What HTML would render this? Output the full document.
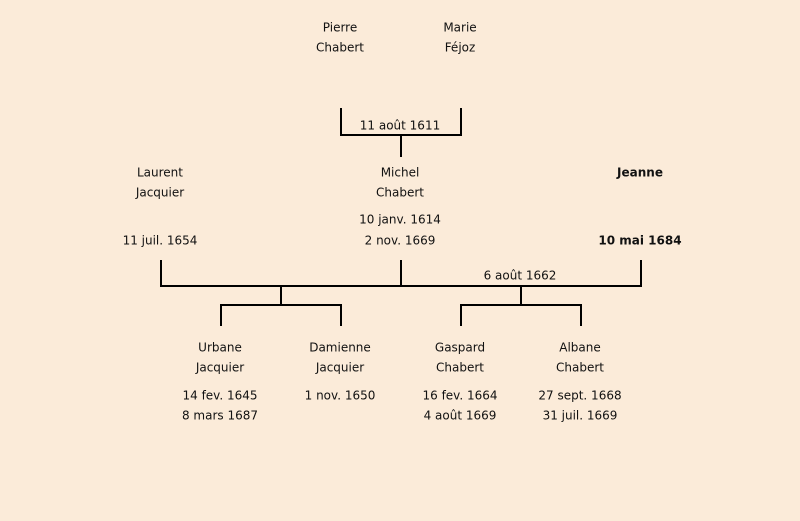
<!DOCTYPE html>
<html><head><meta charset="utf-8"><style>
html,body{margin:0;padding:0;background:#FBEBD9;}
svg{display:block}
text{font-family:"DejaVu Sans","Liberation Sans",sans-serif;font-size:12px;fill:#111;text-anchor:middle;dominant-baseline:middle}
.b{font-weight:bold}
</style></head><body>
<svg width="800" height="521" viewBox="0 0 800 521">
<rect width="800" height="521" fill="#FBEBD9"/>
<g stroke="#000" stroke-width="2" fill="none">
<path d="M341 108V135H461V108M401 135V157"/>
<path d="M161 260V286H641V260M401 260V286"/>
<path d="M281 286V305M221 326V305H341V326"/>
<path d="M521 286V305M461 326V305H581V326"/>
</g>
<g transform="translate(0,1)">
<text x="340" y="27">Pierre</text><text x="340" y="47">Chabert</text>
<text x="460" y="27">Marie</text><text x="460" y="47">Féjoz</text>
<text x="400" y="125">11 août 1611</text>
<text x="160" y="172">Laurent</text><text x="160" y="192">Jacquier</text>
<text x="160" y="240">11 juil. 1654</text>
<text x="400" y="172">Michel</text><text x="400" y="192">Chabert</text>
<text x="400" y="219">10 janv. 1614</text><text x="400" y="240">2 nov. 1669</text>
<text x="640" y="172" class="b">Jeanne</text>
<text x="640" y="240" class="b">10 mai 1684</text>
<text x="520" y="275">6 août 1662</text>
<text x="220" y="347">Urbane</text><text x="220" y="367">Jacquier</text>
<text x="220" y="395">14 fev. 1645</text><text x="220" y="415">8 mars 1687</text>
<text x="340" y="347">Damienne</text><text x="340" y="367">Jacquier</text>
<text x="340" y="395">1 nov. 1650</text>
<text x="460" y="347">Gaspard</text><text x="460" y="367">Chabert</text>
<text x="460" y="395">16 fev. 1664</text><text x="460" y="415">4 août 1669</text>
<text x="580" y="347">Albane</text><text x="580" y="367">Chabert</text>
<text x="580" y="395">27 sept. 1668</text><text x="580" y="415">31 juil. 1669</text>
</g>
</svg>
</body></html>
